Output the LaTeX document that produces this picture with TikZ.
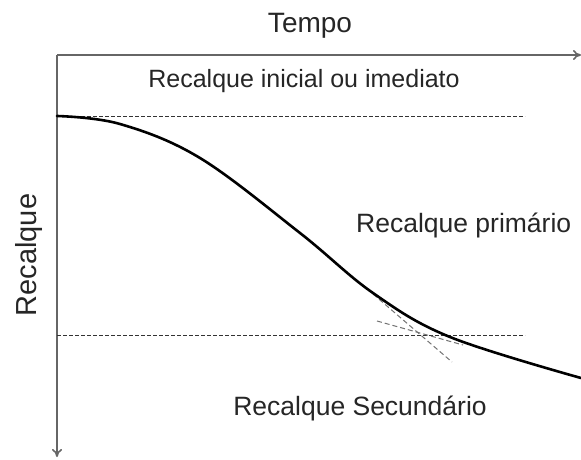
\documentclass[tikz,border=0pt]{standalone}
\usepackage{fontspec}
\setmainfont{Liberation Sans}
\usetikzlibrary{arrows.meta}
\begin{document}
\begin{tikzpicture}[x=1pt,y=-1pt,
  lbl/.style={text=black!85, inner sep=0pt, anchor=base},
  axis/.style={draw=black!60, line width=1.6pt, -{To[length=8pt,width=10pt]}},
  guide/.style={draw=black!80, line width=0.9pt, dash pattern=on 4pt off 2pt},
  aux/.style={draw=black!55, line width=1pt, dash pattern=on 5pt off 3pt},
  curve/.style={draw=black, line width=2.6pt, line cap=round}]
\useasboundingbox (0,0) rectangle (581,460);
\fill[white] (0,0) rectangle (581,460);
\coordinate (O) at (57,55);
\coordinate (X) at (581,55);
\coordinate (Y) at (57,457);
\draw[axis] (O) -- (X);
\draw[axis] (O) -- (Y);
\node[lbl, font=\fontsize{28}{30}\selectfont] (tempo) at (310,33) {Tempo};
\node[lbl, font=\fontsize{25}{28}\selectfont] (ini) at (304,88) {Recalque inicial ou imediato};
\node[lbl, anchor=base west, font=\fontsize{26.5}{29}\selectfont] (prim) at (356,232) {Recalque primário};
\node[lbl, font=\fontsize{26.5}{29}\selectfont] (sec) at (360,415) {Recalque Secundário};
\node[lbl, rotate=90, font=\fontsize{29}{31}\selectfont] (rec) at (36,255) {Recalque};
\coordinate (t1) at (57,116);
\coordinate (t2) at (525,116);
\coordinate (b1) at (57,335);
\coordinate (b2) at (525,335);
\draw[guide] (t1) -- (t2);
\draw[guide] (b1) -- (b2);
\coordinate (a1) at (373,294);
\coordinate (a2) at (452,362);
\coordinate (c1) at (377,321);
\coordinate (c2) at (463,345);
\draw[aux] (a1) -- (a2);
\draw[aux] (c1) -- (c2);
\draw[curve] plot[smooth, tension=0.6] coordinates {(57,116) (120,124) (200,158) (300,233) (373,293) (450,337) (581,378)};
\end{tikzpicture}
\end{document}
